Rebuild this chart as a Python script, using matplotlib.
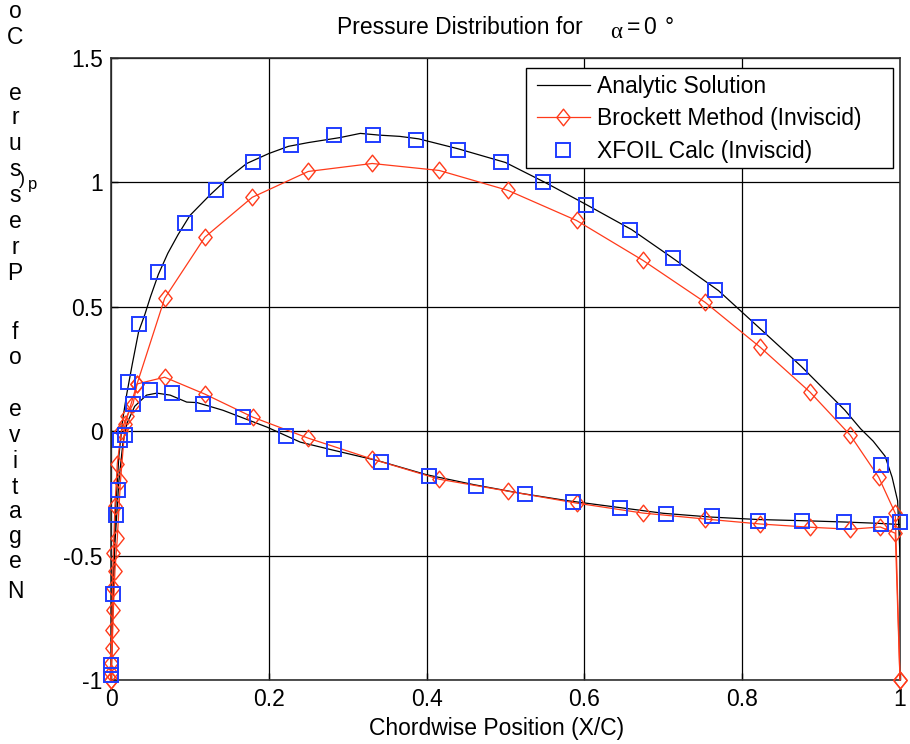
import matplotlib
matplotlib.use("Agg")
import matplotlib.pyplot as plt
from matplotlib.path import Path
from matplotlib.patches import Rectangle
import numpy as np

plt.rcParams['font.family'] = ['Liberation Sans', 'DejaVu Sans']

# ---------------- data ----------------
an_up_x = [0, 0.001, 0.003, 0.006, 0.01, 0.015, 0.02, 0.027, 0.035, 0.043, 0.05, 0.06, 0.072, 0.085,
           0.1, 0.125, 0.148, 0.172, 0.2, 0.225, 0.25, 0.29, 0.316, 0.34, 0.366, 0.39, 0.44, 0.5, 0.55,
           0.6, 0.66, 0.71, 0.77, 0.82, 0.875, 0.93, 0.95, 0.966, 0.981, 0.99, 0.997, 1.0]
an_up_y = [-1.0, -0.8, -0.55, -0.3, -0.1, 0.05, 0.15, 0.27, 0.4, 0.47, 0.54, 0.63, 0.715, 0.79,
           0.867, 0.948, 1.016, 1.076, 1.116, 1.145, 1.16, 1.18, 1.197, 1.19, 1.185, 1.175, 1.135, 1.08, 1.0,
           0.915, 0.81, 0.7, 0.565, 0.42, 0.26, 0.085, 0.01, -0.04, -0.1, -0.185, -0.28, -0.5]

an_lo_x = [0, 0.002, 0.005, 0.01, 0.015, 0.02, 0.03, 0.045, 0.058, 0.075, 0.096, 0.109, 0.142, 0.17,
           0.198, 0.24, 0.28, 0.34, 0.4, 0.46, 0.52, 0.58, 0.64, 0.7, 0.76, 0.82, 0.88, 0.93, 0.97, 1.0]
an_lo_y = [-1.0, -0.75, -0.45, -0.2, -0.05, 0.03, 0.1, 0.145, 0.153, 0.145, 0.117, 0.115, 0.084, 0.05,
           0.016, -0.044, -0.075, -0.12, -0.175, -0.215, -0.25, -0.28, -0.305, -0.33, -0.345, -0.355,
           -0.36, -0.365, -0.37, -0.375]

br_up_x = [0, 0.0003, 0.001, 0.002, 0.003, 0.005, 0.008, 0.013, 0.02, 0.028, 0.033, 0.068, 0.119,
           0.179, 0.25, 0.331, 0.416, 0.503, 0.59, 0.674, 0.753, 0.823, 0.886, 0.937, 0.973, 0.994, 1.0]
br_up_y = [-1.0, -0.93, -0.8, -0.63, -0.49, -0.3, -0.13, 0.0, 0.06, 0.11, 0.19, 0.534, 0.78,
           0.94, 1.044, 1.076, 1.048, 0.968, 0.847, 0.687, 0.518, 0.337, 0.157, -0.016, -0.185, -0.33, -1.0]

br_lo_x = [0, 0.0005, 0.0015, 0.003, 0.005, 0.008, 0.012, 0.018, 0.033, 0.068, 0.119, 0.18, 0.25,
           0.331, 0.416, 0.503, 0.59, 0.674, 0.753, 0.823, 0.886, 0.937, 0.975, 0.994, 1.0]
br_lo_y = [-1.0, -0.97, -0.87, -0.72, -0.56, -0.43, -0.2, 0.03, 0.19, 0.217, 0.149, 0.056, -0.028,
           -0.112, -0.193, -0.241, -0.289, -0.329, -0.353, -0.373, -0.386, -0.394, -0.385, -0.41, -1.0]

xf_up_x = [0, 0.003, 0.006, 0.009, 0.022, 0.035, 0.06, 0.094, 0.133, 0.18, 0.228, 0.283, 0.332, 0.387,
           0.44, 0.494, 0.548, 0.602, 0.658, 0.712, 0.766, 0.821, 0.873, 0.928, 0.976, 1.0]
xf_up_y = [-0.98, -0.655, -0.337, -0.237, 0.197, 0.43, 0.64, 0.835, 0.97, 1.08, 1.15, 1.19, 1.19, 1.17,
           1.13, 1.08, 1.0, 0.91, 0.81, 0.695, 0.566, 0.418, 0.26, 0.08, -0.137, -0.365]

xf_lo_x = [0.0005, 0.011, 0.018, 0.028, 0.049, 0.077, 0.117, 0.167, 0.222, 0.283, 0.342, 0.403, 0.463,
           0.525, 0.586, 0.645, 0.703, 0.762, 0.82, 0.876, 0.929, 0.976]
xf_lo_y = [-0.94, -0.036, -0.016, 0.11, 0.165, 0.155, 0.11, 0.058, -0.018, -0.072, -0.125, -0.18, -0.22,
           -0.253, -0.285, -0.31, -0.333, -0.34, -0.36, -0.36, -0.365, -0.373]

x_ticks = [0, 0.2, 0.4, 0.6, 0.8, 1]
x_ticklabels = ['0', '0.2', '0.4', '0.6', '0.8', '1']
y_ticks = [-1, -0.5, 0, 0.5, 1, 1.5]
y_ticklabels = ['-1', '-0.5', '0', '0.5', '1', '1.5']

legend_labels = ['Analytic Solution', 'Brockett Method (Inviscid)', 'XFOIL Calc (Inviscid)']
title_main = 'Pressure Distribution for'
xlabel = 'Chordwise Position (X/C)'
ylabel_chars = ['o', 'C', 'e', 'r', 'u', 's', 's', 'e', 'r', 'P', 'f', 'o',
                'e', 'v', 'i', 't', 'a', 'g', 'e', 'N']

# ---------------- figure ----------------
W, H = 910, 744
fig = plt.figure(figsize=(W / 100, H / 100), dpi=100)
L, R, T, B = 111, 900, 58, 680
ax = fig.add_axes([L / W, 1 - B / H, (R - L) / W, (B - T) / H])

def fx(px):
    return px / W

def fy(py):
    return 1 - py / H

FS = 16.5
red = '#ff3a1a'
blue = '#1f3cff'
diamond = Path([(0, 1), (0.8, 0), (0, -1), (-0.8, 0), (0, 1)],
               [Path.MOVETO, Path.LINETO, Path.LINETO, Path.LINETO, Path.CLOSEPOLY])

ax.plot(an_up_x, an_up_y, color='black', lw=0.9, zorder=3, label=legend_labels[0])
ax.plot(an_lo_x, an_lo_y, color='black', lw=0.9, zorder=3)
ax.plot(br_up_x, br_up_y, color=red, lw=0.9, marker=diamond, ms=12, mfc='none', mec=red, mew=1.0,
        zorder=4, label=legend_labels[1], clip_on=False)
ax.plot(br_lo_x, br_lo_y, color=red, lw=0.9, marker=diamond, ms=12, mfc='none', mec=red, mew=1.0,
        zorder=4, clip_on=False)
ax.plot(xf_up_x, xf_up_y, ls='none', marker='s', ms=10.5, mfc='none', mec=blue, mew=1.4, zorder=5,
        label=legend_labels[2], clip_on=False)
ax.plot(xf_lo_x, xf_lo_y, ls='none', marker='s', ms=10.5, mfc='none', mec=blue, mew=1.4, zorder=5,
        clip_on=False)

ax.set_xlim(0, 1)
ax.set_ylim(-1, 1.5)
ax.set_xticks(x_ticks)
ax.set_xticklabels(x_ticklabels)
ax.set_yticks(y_ticks)
ax.set_yticklabels(y_ticklabels)
ax.tick_params(direction='in', length=5, width=1, labelsize=FS, pad=6, colors='black')
ax.grid(True, color='black', lw=0.9, ls='-')
ax.set_axisbelow(True)
for s in ax.spines.values():
    s.set_color('#303030')
    s.set_linewidth(1.2)

# legend box drawn as its own rectangle (MATLAB-style wide padding)
box = Rectangle((fx(526), fy(168)), (893 - 526) / W, (168 - 68) / H, transform=fig.transFigure,
                facecolor='white', edgecolor='black', lw=1.0, zorder=10, clip_on=False)
ax.add_patch(box)
leg = ax.legend(loc='upper left', bbox_to_anchor=(fx(537), fy(75)), bbox_transform=fig.transFigure,
                fontsize=FS, frameon=False, handlelength=2.3, handletextpad=0.3,
                labelspacing=0.41, borderpad=0, borderaxespad=0)
leg.set_zorder(11)

# title pieces
fig.text(fx(460), fy(27), title_main, ha='center', va='center', fontsize=FS)
fig.text(fx(616), fy(33), 'α', ha='center', va='center', fontsize=FS,
         family=['Liberation Serif', 'DejaVu Serif'])
fig.text(fx(634), fy(27), '=', ha='center', va='center', fontsize=FS)
fig.text(fx(650), fy(27), '0', ha='center', va='center', fontsize=FS)
fig.text(fx(669), fy(28), '°', ha='center', va='center', fontsize=FS)

# x label
fig.text(fx(497), fy(729), xlabel, ha='center', va='center', fontsize=FS)

# y label, upright stacked characters
ylabel_pos = [12, 37, 93, 118, 143, 170, 196, 222, 248, 273, 332, 357,
              410, 436, 462, 487, 512, 537, 562, 592]
for ch, py in zip(ylabel_chars, ylabel_pos):
    fig.text(fx(15), fy(py), ch, ha='center', va='center', fontsize=FS)
fig.text(fx(22), fy(180), ')', ha='center', va='center', fontsize=13)
fig.text(fx(33), fy(185), 'p', ha='center', va='center', fontsize=12)

fig.savefig('out.png', dpi=100)
